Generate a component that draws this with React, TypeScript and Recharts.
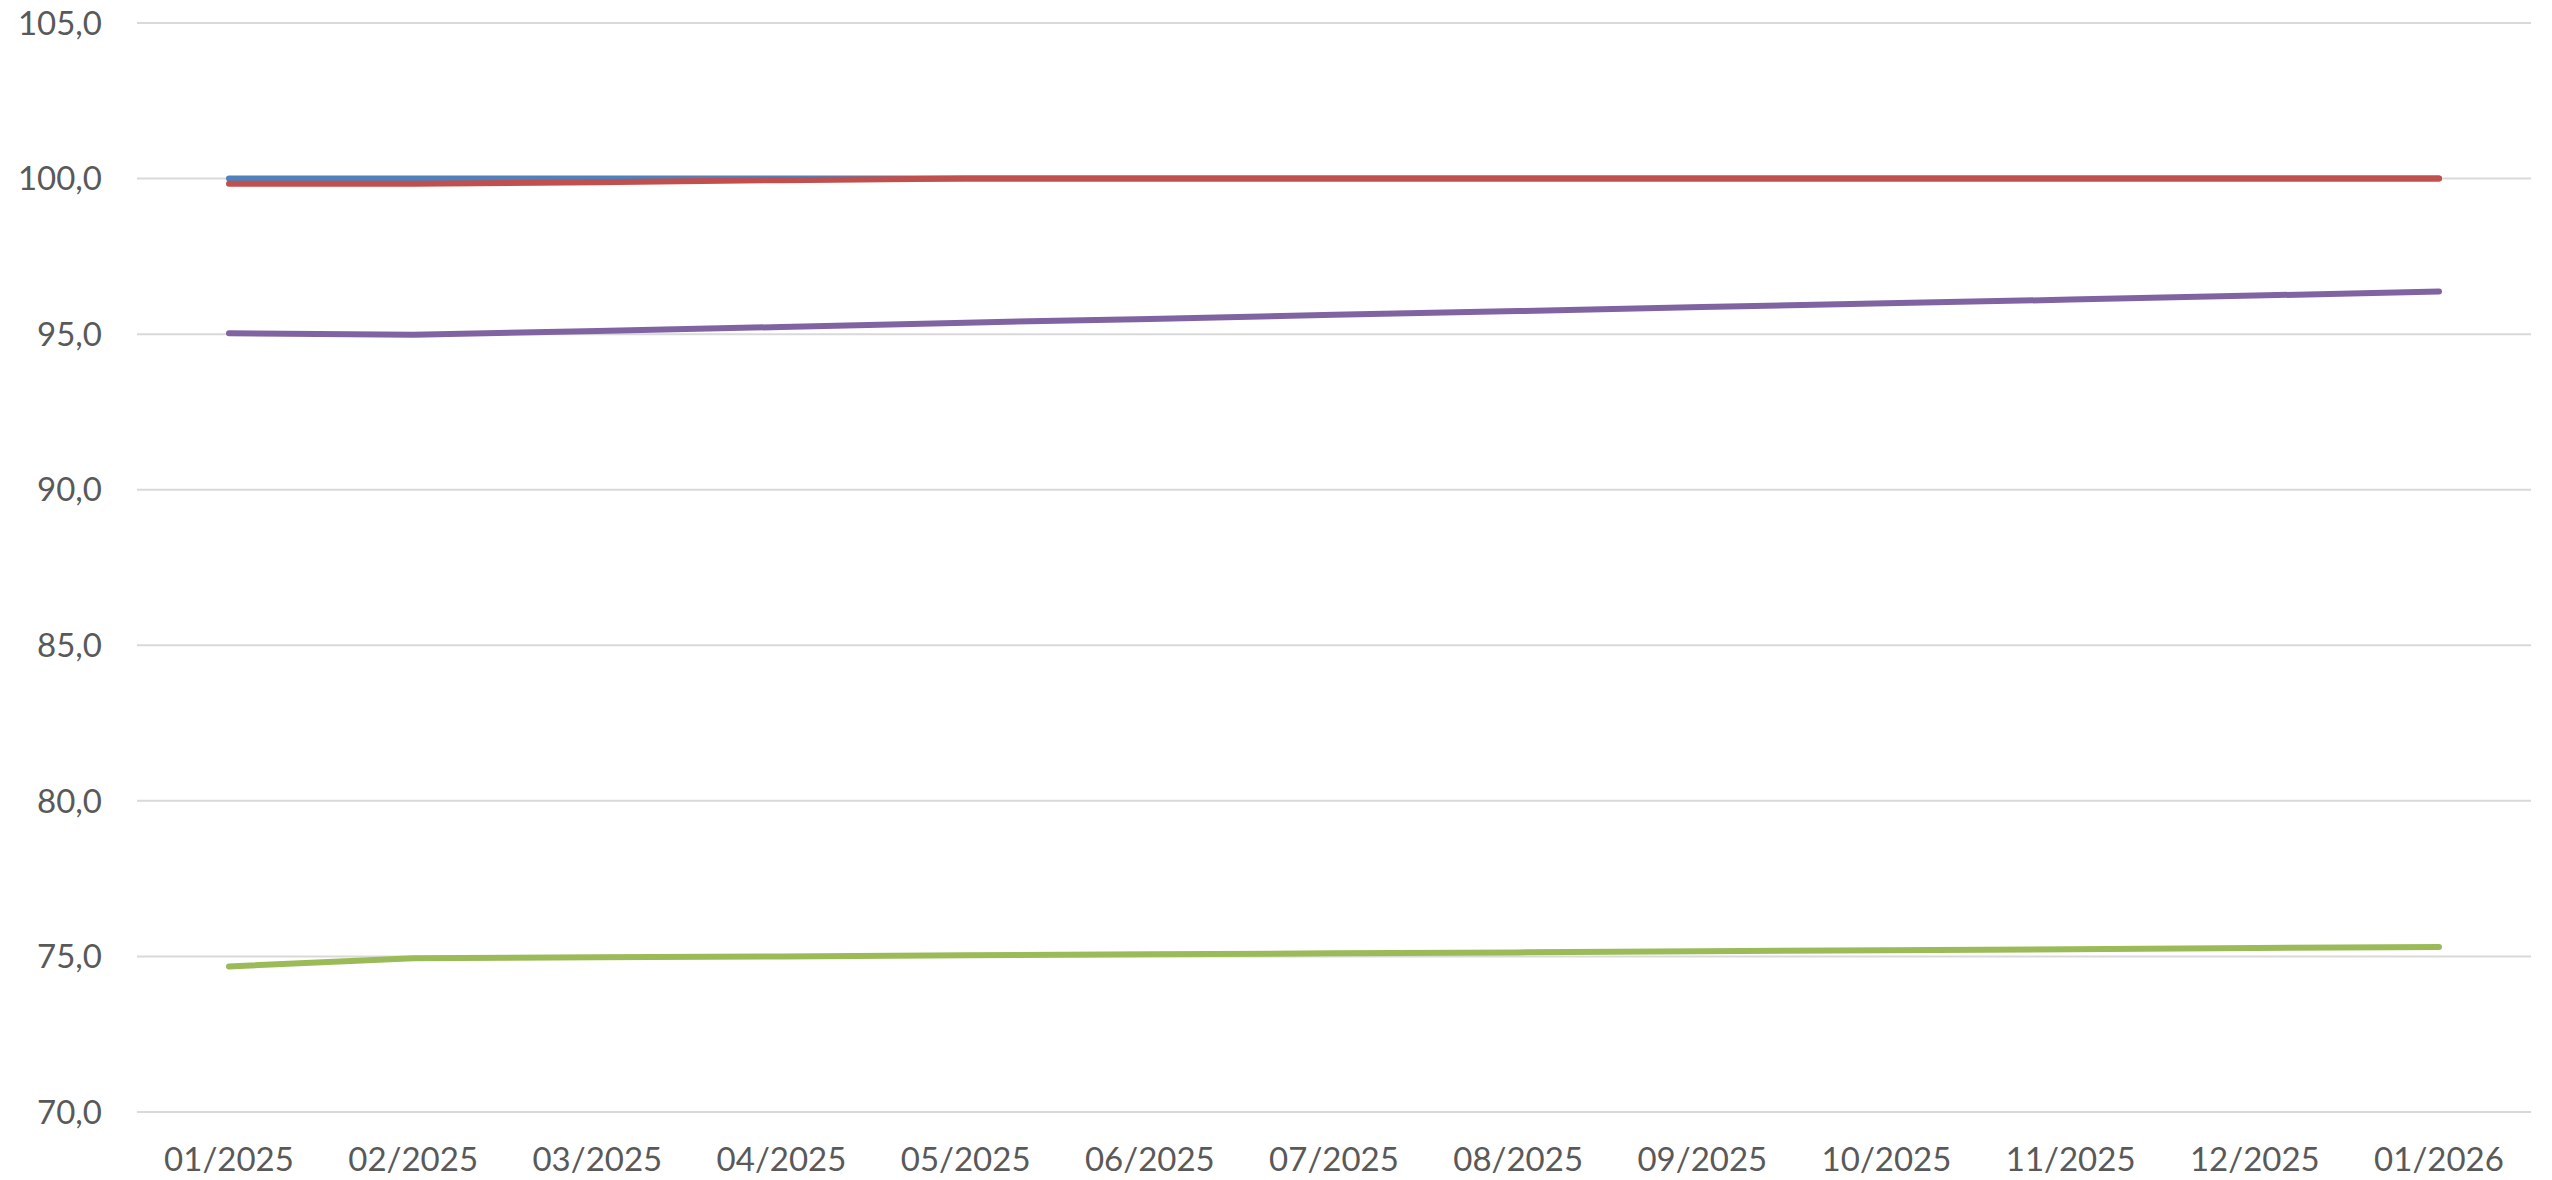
import { LineChart, Line, XAxis, YAxis, CartesianGrid } from "recharts";

const MONTHS = [
  "01/2025",
  "02/2025",
  "03/2025",
  "04/2025",
  "05/2025",
  "06/2025",
  "07/2025",
  "08/2025",
  "09/2025",
  "10/2025",
  "11/2025",
  "12/2025",
  "01/2026",
];

const BLUE_VALUES = [100, 100, 100, 100, 100, 100, 100, 100, 100, 100, 100, 100, 100];
const RED_VALUES = [99.83, 99.83, 99.88, 99.95, 100, 100, 100, 100, 100, 100, 100, 100, 100];
const GREEN_VALUES = [74.68, 74.94, 74.97, 75.0, 75.04, 75.07, 75.1, 75.13, 75.17, 75.2, 75.23, 75.27, 75.3];
const PURPLE_VALUES = [95.03, 94.98, 95.1, 95.23, 95.37, 95.49, 95.62, 95.74, 95.87, 95.99, 96.11, 96.24, 96.37];

const Y_TICKS = [70, 75, 80, 85, 90, 95, 100, 105];

const WIDTH = 2552;
const HEIGHT = 1180;
const FONT = "Lato, 'Open Sans', sans-serif";
const LABEL_COLOR = "#595959";

const chartData = MONTHS.map((month, i) => ({
  month,
  blue: BLUE_VALUES[i],
  red: RED_VALUES[i],
  green: GREEN_VALUES[i],
  purple: PURPLE_VALUES[i],
}));

const formatValue = (v: number) => v.toFixed(1).replace(".", ",");

const SERIES: Array<{ key: string; color: string }> = [
  { key: "blue", color: "#4F81BD" },
  { key: "red", color: "#C0504D" },
  { key: "green", color: "#9BBB59" },
  { key: "purple", color: "#8064A2" },
];

function App() {
  return (
    <div style={{ position: "absolute", left: 0, top: 0, background: "#fff" }}>
      <LineChart
        width={WIDTH}
        height={HEIGHT}
        data={chartData}
        margin={{ top: 23, right: 21, bottom: 0, left: 0 }}
      >
        <CartesianGrid stroke="#D9D9D9" strokeWidth={2} vertical={false} />
        <XAxis
          dataKey="month"
          height={68}
          axisLine={false}
          tickLine={false}
          tickSize={0}
          tickMargin={36}
          interval={0}
          padding={{ left: 92, right: 92 }}
          tick={{ fill: LABEL_COLOR, fontSize: 33, fontFamily: FONT }}
        />
        <YAxis
          domain={[70, 105]}
          ticks={Y_TICKS}
          width={137}
          axisLine={false}
          tickLine={false}
          tickSize={0}
          tickMargin={35}
          tickFormatter={formatValue}
          tick={{ fill: LABEL_COLOR, fontSize: 33, fontFamily: FONT }}
        />
        {SERIES.map((s) => (
          <Line
            key={s.key}
            type="linear"
            dataKey={s.key}
            stroke={s.color}
            strokeWidth={6}
            strokeLinecap="round"
            strokeLinejoin="round"
            dot={false}
            activeDot={false}
            isAnimationActive={false}
          />
        ))}
      </LineChart>
    </div>
  );
}

export default App;
